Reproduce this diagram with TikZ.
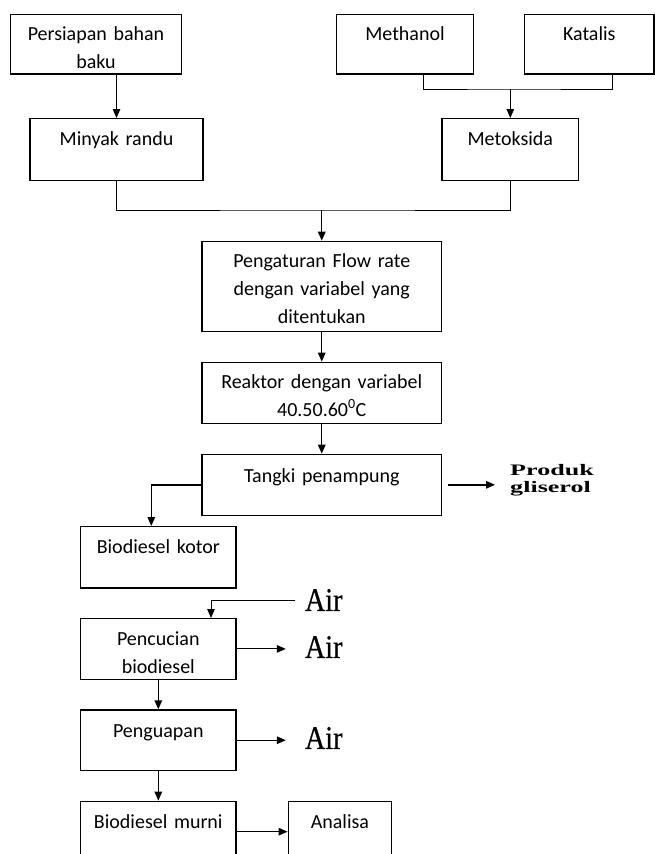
\documentclass[tikz,border=0pt]{standalone}
\usepackage{fontspec}
\setmainfont{Carlito}
\newfontfamily\airfont[FakeStretch=0.85, FakeBold=0.6]{Liberation Serif}
\newfontfamily\prodfont[FakeStretch=1.63]{Liberation Serif}
\usetikzlibrary{positioning, arrows.meta}

\begin{document}
\begin{tikzpicture}[
    x=1pt, y=-1pt,
    >={Triangle[length=9pt, width=7.5pt]},
    node distance=29.5pt,
    every node/.style={font=\fontsize{20}{28}\selectfont},
    box/.style={
        draw, line width=1.2pt, inner sep=0pt, anchor=north,
        align=center, text height=27pt, text depth=34pt
    },
    airtxt/.style={font=\airfont\fontsize{33}{34}\selectfont},
    prodtxt/.style={font=\prodfont\bfseries\fontsize{16}{17}\selectfont, align=left, inner sep=2pt},
    line/.style={line width=1pt},
    arrow/.style={->, line width=1.4pt},
    thinarrow/.style={->, line width=1pt},
]
\useasboundingbox (0,0) rectangle (655,854);
\clip (0,0) rectangle (655,854);

% --- Bahan baku ---
\node[box, text width=171pt, text height=26pt, text depth=33.3pt] (prep) at (96,14) {Persiapan bahan\\baku};
\node[box, text width=137pt, text height=25.5pt, text depth=33.8pt] (meth) at (405,14) {Methanol};
\node[box, text width=129.5pt, text height=25.5pt, text depth=33.8pt] (kat) at (589.3,14) {Katalis};
\node[box, text width=173pt, text depth=35pt] (minyak) at (116.5,118) {Minyak randu};
\node[box, text width=136.5pt, text depth=35pt] (metok) at (510.3,118) {Metoksida};

\draw[arrow] (prep.south -| minyak.north) -- (minyak.north);
\coordinate (mk) at (510.3,89);
\draw[line] ([xshift=18pt]meth.south) |- (mk) -| ([xshift=23.5pt]kat.south);
\draw[thinarrow] (mk) -- (metok.north);

% --- Reaksi ---
\node[box, text width=239.5pt, text height=26.6pt, text depth=63.7pt] (atur) at (321.75,240.7) {Pengaturan Flow rate\\dengan variabel yang\\ditentukan};
\node[box, text width=239.5pt, text height=26pt, text depth=35.3pt, below=of atur] (reak) {Reaktor dengan variabel\\40.50.60\textsuperscript{0}C};
\node[box, text width=239.5pt, text height=28pt, text depth=33pt, below=of reak] (tangki) {Tangki penampung};
\node[prodtxt] (prod) at (552,480) {Produk\\gliserol};

\coordinate (mm) at (321.75,210);
\draw[line] (minyak.south) |- (mm) -| (metok.south);
\draw[arrow] (mm) -- (atur.north);
\draw[arrow] (atur) -- (reak);
\draw[arrow] (reak) -- (tangki);
\draw[arrow, shorten <=5.5pt, shorten >=13pt] (tangki.east) -- (tangki.east -| prod.west);

% --- Pemurnian ---
\node[box, text width=155.4pt, text height=27.3pt] (kotor) at (158.3,526) {Biodiesel kotor};
\node[box, text width=155.4pt, text height=27.3pt, text depth=33.3pt, below=of kotor] (cuci) {Pencucian\\biodiesel};
\node[box, text width=155.4pt, text height=27.3pt, text depth=33.3pt, below=of cuci] (uap) {Penguapan};
\node[box, text width=155.4pt, below=of uap] (murni) {Biodiesel murni};
\node[box, text width=103.5pt, right=51pt of murni] (analisa) {Analisa};

\node[airtxt] (air1) at (323.75,600) {Air};
\node[airtxt] (air2) at (323.75,647) {Air};
\node[airtxt] (air3) at (323.75,738) {Air};

\draw[arrow] (tangki.west) -| ([xshift=-7pt]kotor.north);
\draw[thinarrow, shorten <=7pt] (air1.west) -| ([xshift=52.7pt]cuci.north);
\draw[thinarrow, shorten >=15.7pt] (cuci.east) -- (cuci.east -| air2.west);
\draw[arrow] (cuci) -- (uap);
\draw[arrow, shorten >=15.7pt] (uap.east) -- (uap.east -| air3.west);
\draw[arrow] (uap) -- (murni);
\draw[arrow] (murni) -- (analisa);

\end{tikzpicture}
\end{document}
